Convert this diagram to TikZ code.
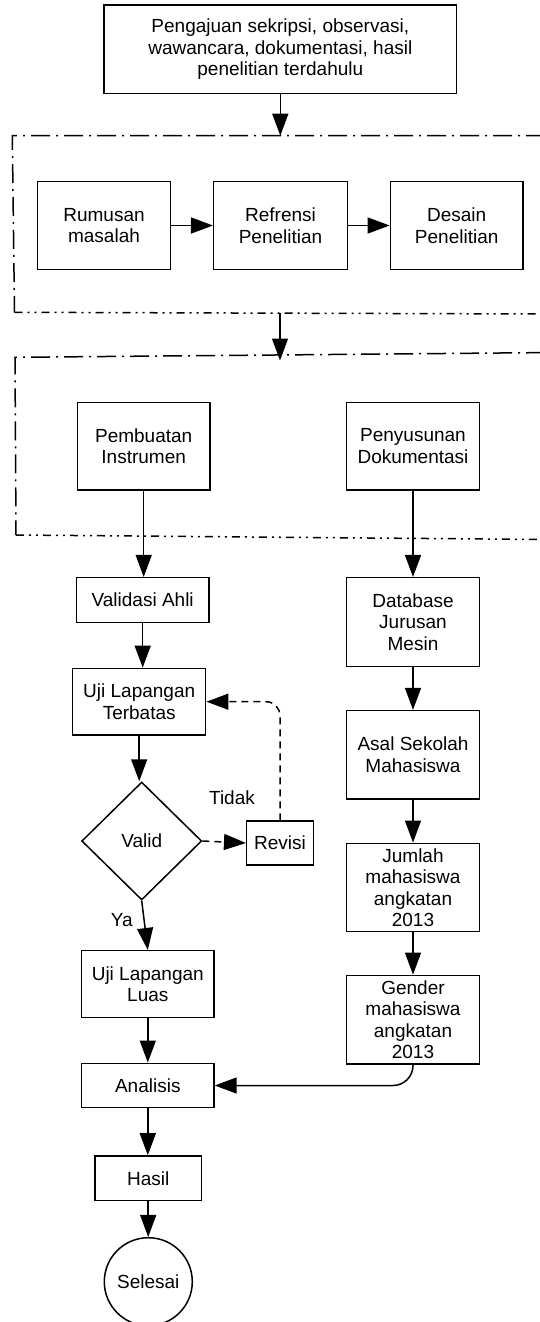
\documentclass[tikz,border=0pt]{standalone}
\usepackage{fontspec}
\setmainfont{Liberation Sans}
\usetikzlibrary{arrows.meta,shapes.geometric}
\begin{document}
\begin{tikzpicture}[x=1pt,y=-1pt,
  every node/.style={font=\fontsize{19}{21.5}\selectfont, align=center, inner sep=0pt},
  box/.style={draw, line width=1.5pt, rectangle},
  decision/.style={draw, line width=1.5pt, diamond, minimum width=120pt, minimum height=118pt},
  terminal/.style={draw, line width=1.5pt, circle, minimum size=88pt},
  arr/.style={line width=1.5pt, -{Triangle[length=22pt,width=16pt]}},
  dashline/.style={dash pattern=on 7pt off 5pt},
  framelong/.style={line width=1.5pt, dash pattern=on 19pt off 6pt on 2pt off 6pt},
  frameshort/.style={line width=1.5pt, dash pattern=on 8pt off 5pt on 2pt off 5pt on 2pt off 5pt},
]
\useasboundingbox (0,0) rectangle (539,1322);

% group frames (open to the right)
\draw[framelong] (545,135.7) -- (12.3,135.7) -- (14.5,312.3);
\draw[frameshort] (14.5,312.3) -- (545,314);
\draw[framelong] (545,352.6) -- (15,357.3) -- (16,535);
\draw[frameshort] (16,535) -- (545,539.5);
\coordinate (f1top) at (278.3,135.7);
\coordinate (f1bot) at (280,313.4);
\coordinate (f2top) at (280,360.5);

% nodes
\node[box, minimum width=352.7pt, minimum height=88.3pt] (top) at (280.3,49.2)
  {Pengajuan sekripsi, observasi,\\wawancara, dokumentasi, hasil\\penelitian terdahulu};
\node[box, minimum width=133.4pt, minimum height=87.6pt] (rum) at (104,225.5) {Rumusan\\masalah};
\node[box, minimum width=133.6pt, minimum height=87.6pt] (ref) at (280.5,225.5) {Refrensi\\Penelitian};
\node[box, minimum width=132.7pt, minimum height=87.6pt] (des) at (456.7,225.5) {Desain\\Penelitian};

\node[box, minimum width=132.7pt, minimum height=87.7pt] (pemb) at (143.7,446.2) {Pembuatan\\Instrumen};
\node[box, minimum width=132.6pt, minimum height=87.7pt] (peny) at (413,446.2) {Penyusunan\\Dokumentasi};

\node[box, minimum width=132.7pt, minimum height=45pt] (val) at (142.7,600.2) {Validasi Ahli};
\node[box, minimum width=133pt, minimum height=66.7pt] (ujt) at (139.2,701.7) {Uji Lapangan\\Terbatas};
\node[decision] (dia) at (141.7,841) {Valid};
\node[box, minimum width=66.6pt, minimum height=44pt] (rev) at (280,843) {Revisi};
\node[box, minimum width=132.3pt, minimum height=66.6pt] (luas) at (147.8,984) {Uji Lapangan\\Luas};
\node[box, minimum width=132.3pt, minimum height=44.4pt] (ana) at (147.8,1085.5) {Analisis};
\node[box, minimum width=106.3pt, minimum height=44.7pt] (has) at (148.2,1178.3) {Hasil};
\node[terminal] (sel) at (148.3,1281.7) {Selesai};

\node[box, minimum width=132.6pt, minimum height=89pt] (db) at (413,622.2) {Database\\Jurusan\\Mesin};
\node[box, minimum width=132.6pt, minimum height=88.3pt] (asal) at (413,754.8) {Asal Sekolah\\Mahasiswa};
\node[box, minimum width=132.6pt, minimum height=88.4pt] (jml) at (413,887.5) {Jumlah\\mahasiswa\\angkatan\\2013};
\node[box, minimum width=132.6pt, minimum height=88.7pt] (gen) at (413,1019.7) {Gender\\mahasiswa\\angkatan\\2013};

\node (tidak) at (232,797.7) {Tidak};
\node (ya) at (121.7,920) {Ya};

% connectors
\draw[arr] (top.south) -- (top.south |- f1top);
\draw[arr] (rum) -- (ref);
\draw[arr] (ref) -- (des);
\draw[arr] (f1bot) -- (f2top);
\draw[arr] (pemb.south) -- (pemb.south |- val.north);
\draw[arr] (peny.south) -- (peny.south |- db.north);
\draw[arr] (val.south) -- (val.south |- ujt.north);
\draw[arr] (ujt.south) -- (ujt.south |- dia.north);
\draw[arr, dashline] (dia.east) -- (rev.west);
\draw[arr, dashline, rounded corners=14pt] (rev.north) |- (ujt.east);
\draw[arr] (dia.south) -- (luas.north);
\draw[arr] (luas.south) -- (luas.south |- ana.north);
\draw[arr] (ana.south) -- (ana.south |- has.north);
\draw[arr] (has.south) -- (has.south |- sel.north);
\draw[arr] (db.south) -- (db.south |- asal.north);
\draw[arr] (asal.south) -- (asal.south |- jml.north);
\draw[arr] (jml.south) -- (jml.south |- gen.north);
\draw[arr, rounded corners=20pt] (gen.south) |- (ana.east);
\end{tikzpicture}
\end{document}
